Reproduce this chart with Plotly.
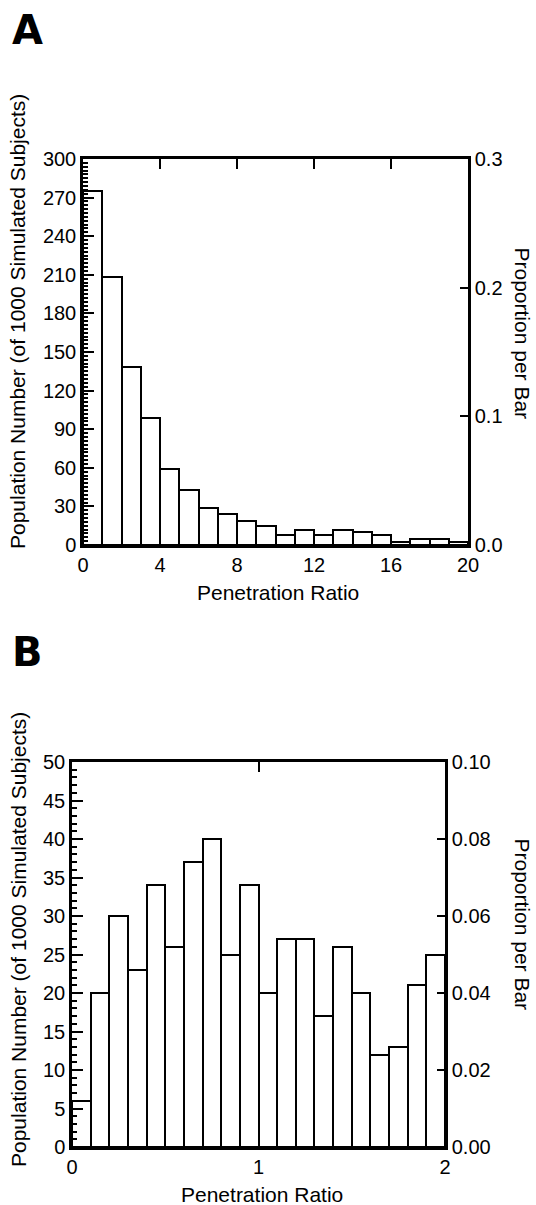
import plotly.graph_objects as go

# ---------------- data ----------------
# Panel A: bins of width 1 from 0 to 20
bin_left_a = list(range(0, 20))
counts_a = [275, 208, 138, 99, 59, 43, 29, 24, 19, 15, 8, 12, 8, 12, 10, 8, 2, 5, 5, 2]
# Panel B: bins of width 0.1 from 0 to 2
bin_left_b = [i / 10 for i in range(0, 20)]
counts_b = [6, 20, 30, 23, 34, 26, 37, 40, 25, 34, 20, 27, 27, 17, 26, 20, 12, 13, 21, 25]
n_subjects = 1000

xticks_a = [0, 4, 8, 12, 16, 20]
yticks_a = list(range(0, 301, 30))
y2ticks_a = [0.0, 0.1, 0.2, 0.3]
xticks_b = [0, 1, 2]
yticks_b = list(range(0, 51, 5))
y2ticks_b = [0.0, 0.02, 0.04, 0.06, 0.08, 0.10]

x_title = "Penetration Ratio"
y_title = "Population Number (of 1000 Simulated Subjects)"
y2_title = "Proportion per Bar"

FONT = "Liberation Sans, Arial, sans-serif"
W, H = 536, 1205

fig = go.Figure()

bar_style = dict(marker=dict(color="white", line=dict(color="black", width=2)),
                 showlegend=False, hoverinfo="skip")

fig.add_trace(go.Bar(x=bin_left_a, y=counts_a, width=1, offset=0,
                     xaxis="x", yaxis="y", **bar_style))
fig.add_trace(go.Scatter(x=bin_left_a, y=[c / n_subjects for c in counts_a],
                         mode="markers", marker=dict(opacity=0),
                         xaxis="x", yaxis="y2", showlegend=False, hoverinfo="skip"))
fig.add_trace(go.Bar(x=bin_left_b, y=counts_b, width=0.1, offset=0,
                     xaxis="x2", yaxis="y3", **bar_style))
fig.add_trace(go.Scatter(x=bin_left_b, y=[c / n_subjects for c in counts_b],
                         mode="markers", marker=dict(opacity=0),
                         xaxis="x2", yaxis="y4", showlegend=False, hoverinfo="skip"))

# plot-area geometry (pixels)
A_l, A_r, A_t, A_b = 83, 468, 159, 545
B_l, B_r, B_t, B_b = 72, 445, 762, 1147


def px(v):
    return v / W


def py(v):
    return 1 - v / H


tickfont = dict(family=FONT, size=20, color="black")
axline = dict(showline=True, linecolor="black", linewidth=2.5, showgrid=False,
              zeroline=False, tickcolor="black", tickfont=tickfont, automargin=False)

fig.update_layout(
    template="none",
    width=W, height=H, margin=dict(l=0, r=0, t=0, b=0, pad=0), autosize=False,
    paper_bgcolor="white", plot_bgcolor="white", bargap=0,
    xaxis=dict(domain=[px(A_l), px(A_r)], anchor="y", range=[0, 20],
               tickvals=xticks_a, ticks="inside", ticklen=10, tickwidth=2,
               mirror="ticks", ticklabelstandoff=0, **axline),
    yaxis=dict(domain=[py(A_b), py(A_t)], anchor="x", range=[0, 300],
               tickvals=yticks_a, ticks="inside", ticklen=11, tickwidth=2,
               minor=dict(dtick=3, ticks="inside", ticklen=5, tickwidth=1.5, tickcolor="black"),
               **axline),
    yaxis2=dict(overlaying="y", side="right", anchor="x", range=[0, 0.3],
                tickvals=y2ticks_a, tickformat=".1f", ticks="inside", ticklen=8, tickwidth=2,
                **axline),
    xaxis2=dict(domain=[px(B_l), px(B_r)], anchor="y3", range=[0, 2],
                tickvals=xticks_b, ticks="inside", ticklen=10, tickwidth=2,
                mirror="ticks", ticklabelstandoff=0, **axline),
    yaxis3=dict(domain=[py(B_b), py(B_t)], anchor="x2", range=[0, 50],
                tickvals=yticks_b, ticks="inside", ticklen=11, tickwidth=2,
                minor=dict(dtick=1, ticks="inside", ticklen=5, tickwidth=1.5, tickcolor="black"),
                **axline),
    yaxis4=dict(overlaying="y3", side="right", anchor="x2", range=[0, 0.1],
                tickvals=y2ticks_b, tickformat=".2f", ticks="inside", ticklen=8, tickwidth=2,
                **axline),
)

tfont = dict(family=FONT, size=21, color="black")
lfont = dict(family="DejaVu Sans, sans-serif", size=40, color="black")
ann = []
# panel letters
ann.append(dict(text="<b>A</b>", x=px(10), y=py(30), xanchor="left", yanchor="middle", font=lfont))
ann.append(dict(text="<b>B</b>", x=px(10), y=py(652), xanchor="left", yanchor="middle", font=lfont))
# x titles
ann.append(dict(text=x_title, x=px(278), y=py(592), xanchor="center", yanchor="middle", font=tfont))
ann.append(dict(text=x_title, x=px(262), y=py(1194), xanchor="center", yanchor="middle", font=tfont))
# left y titles
ann.append(dict(text=y_title, x=px(18), y=py(322), textangle=-90, xanchor="center",
                yanchor="middle", font=tfont))
ann.append(dict(text=y_title, x=px(18), y=py(940), textangle=-90, xanchor="center",
                yanchor="middle", font=tfont))
# right y titles
ann.append(dict(text=y2_title, x=1, y=py(333), textangle=90, xanchor="right",
                yanchor="middle", font=tfont))
ann.append(dict(text=y2_title, x=1, y=py(924), textangle=90, xanchor="right",
                yanchor="middle", font=tfont))
for a in ann:
    a.update(xref="paper", yref="paper", showarrow=False)
fig.update_layout(annotations=ann)

fig.write_html("out.html", config={"displayModeBar": False},
               post_script="document.body.style.margin='0';document.body.style.overflow='hidden';")
